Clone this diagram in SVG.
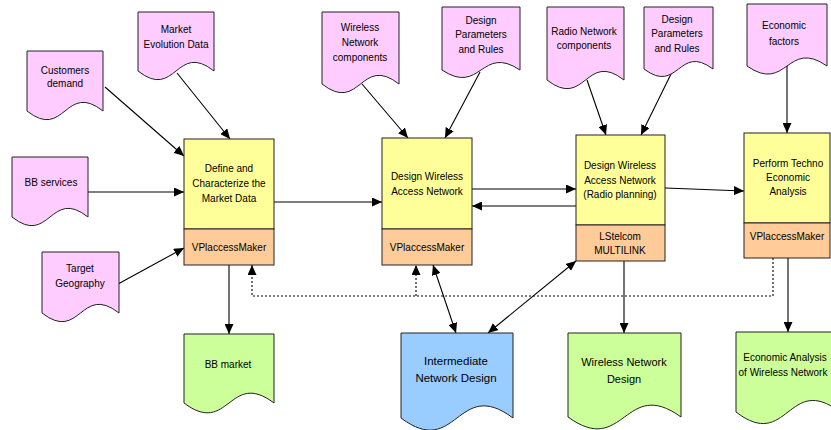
<svg xmlns="http://www.w3.org/2000/svg" width="831" height="430" viewBox="0 0 831 430">
<style>
text{font-family:"Liberation Sans",Arial,sans-serif;font-size:10px;fill:#000;text-anchor:middle}
.big{font-size:11.5px}
.mid{font-size:11px}
.doc{stroke:#222;stroke-width:1}
.in{fill:#ffccff}
.out{fill:#ccff99}
.blue{fill:#99ccff}
.proc{fill:#ffff99;stroke:#222;stroke-width:1}
.tool{fill:#ffcc99;stroke:#222;stroke-width:1}
.c{fill:none;stroke:#000;stroke-width:1.1}
.dot{fill:none;stroke:#000;stroke-width:1.1;stroke-dasharray:2 2}
</style>
<defs>
<marker id="ah" viewBox="0 0 10 9" refX="10" refY="4.5" markerWidth="10" markerHeight="9" markerUnits="userSpaceOnUse" orient="auto-start-reverse">
<path d="M0,0 L10,4.5 L0,9 Z" fill="#000"/>
</marker>
</defs>
<rect width="831" height="430" fill="#fff"/>

<g id="connectors">
<line class="c" x1="105" y1="87" x2="184" y2="156" marker-end="url(#ah)"/>
<line class="c" x1="177" y1="73" x2="230" y2="139" marker-end="url(#ah)"/>
<line class="c" x1="88" y1="192" x2="184" y2="192" marker-end="url(#ah)"/>
<line class="c" x1="118" y1="284" x2="184" y2="248" marker-end="url(#ah)"/>
<line class="c" x1="274" y1="202" x2="382" y2="202" marker-end="url(#ah)"/>
<line class="c" x1="362" y1="84" x2="408" y2="138" marker-end="url(#ah)"/>
<line class="c" x1="480" y1="72" x2="445" y2="138" marker-end="url(#ah)"/>
<line class="c" x1="472" y1="189" x2="576" y2="189" marker-end="url(#ah)"/>
<line class="c" x1="576" y1="206" x2="472" y2="206" marker-end="url(#ah)"/>
<line class="c" x1="587" y1="80" x2="606" y2="135" marker-end="url(#ah)"/>
<line class="c" x1="672" y1="72" x2="641" y2="135" marker-end="url(#ah)"/>
<line class="c" x1="665" y1="188" x2="744" y2="191" marker-end="url(#ah)"/>
<line class="c" x1="787" y1="66" x2="787" y2="133" marker-end="url(#ah)"/>
<line class="c" x1="229" y1="265" x2="229" y2="334" marker-end="url(#ah)"/>
<path class="dot" d="M773,258 V296 H252 V265" marker-end="url(#ah)"/>
<path class="dot" d="M416,296 V265" marker-end="url(#ah)"/>
<line class="c" x1="433" y1="265" x2="456" y2="333" marker-start="url(#ah)" marker-end="url(#ah)"/>
<line class="c" x1="576" y1="261" x2="488" y2="333" marker-start="url(#ah)" marker-end="url(#ah)"/>
<line class="c" x1="624" y1="261" x2="624" y2="333" marker-end="url(#ah)"/>
<line class="c" x1="788" y1="258" x2="788" y2="332" marker-end="url(#ah)"/>
</g>

<g id="customers-demand">
<path class="doc in" d="M27,51 H103 V111 C65,81 65,141 27,111 Z"/>
<text x="65" y="74">Customers</text>
<text x="65" y="87">demand</text>
</g>
<g id="market-evolution-data">
<path class="doc in" d="M138,12 H214 V71 C176,41 176,101 138,71 Z"/>
<text x="176" y="33">Market</text>
<text x="176" y="48">Evolution Data</text>
</g>
<g id="bb-services">
<path class="doc in" d="M12,157 H88 V217 C50,187 50,247 12,217 Z"/>
<text x="51" y="186">BB services</text>
</g>
<g id="target-geography">
<path class="doc in" d="M42,252 H119 V313 C80.5,283 80.5,343 42,313 Z"/>
<text x="80" y="272">Target</text>
<text x="80" y="287">Geography</text>
</g>
<g id="wireless-network-components">
<path class="doc in" d="M322,12 H399 V84 C360.5,54 360.5,114 322,84 Z"/>
<text x="360" y="31">Wireless</text>
<text x="360" y="46">Network</text>
<text x="360" y="61">components</text>
</g>
<g id="design-parameters-1">
<path class="doc in" d="M442,7 H520 V70 C481,44 481,96 442,70 Z"/>
<text x="481" y="24">Design</text>
<text x="481" y="38">Parameters</text>
<text x="481" y="53">and Rules</text>
</g>
<g id="radio-network-components">
<path class="doc in" d="M547,7 H624 V80 C585.5,50 585.5,110 547,80 Z"/>
<text x="584" y="35">Radio Network</text>
<text x="584" y="49">components</text>
</g>
<g id="design-parameters-2">
<path class="doc in" d="M644,7 H713 V69 C678.5,43 678.5,95 644,69 Z"/>
<text x="677" y="23">Design</text>
<text x="677" y="37">Parameters</text>
<text x="677" y="52">and Rules</text>
</g>
<g id="economic-factors">
<path class="doc in" d="M747,4 H827 V66 C787,38 787,94 747,66 Z"/>
<text x="784" y="29">Economic</text>
<text x="784" y="45">factors</text>
</g>

<g id="define-market-data">
<rect class="proc" x="184" y="139" width="90" height="90"/>
<rect class="tool" x="184" y="229" width="90" height="36"/>
<text x="229" y="172">Define and</text>
<text x="229" y="187">Characterize the</text>
<text x="229" y="202">Market Data</text>
<text x="229" y="251">VPlaccessMaker</text>
</g>
<g id="design-wireless-access">
<rect class="proc" x="382" y="138" width="90" height="91"/>
<rect class="tool" x="382" y="229" width="90" height="36"/>
<text x="427" y="180">Design Wireless</text>
<text x="427" y="195">Access Network</text>
<text x="427" y="251">VPlaccessMaker</text>
</g>
<g id="design-radio-planning">
<rect class="proc" x="576" y="135" width="89" height="90"/>
<rect class="tool" x="576" y="225" width="89" height="36"/>
<text x="620" y="169">Design Wireless</text>
<text x="620" y="184">Access Network</text>
<text x="620" y="198">(Radio planning)</text>
<text x="620" y="240">LStelcom</text>
<text x="620" y="254">MULTILINK</text>
</g>
<g id="techno-economic-analysis">
<rect class="proc" x="744" y="133" width="86" height="90"/>
<rect class="tool" x="744" y="223" width="86" height="35"/>
<text x="788" y="167">Perform Techno</text>
<text x="788" y="181">Economic</text>
<text x="788" y="195">Analysis</text>
<text x="787" y="240">VPlaccessMaker</text>
</g>

<g id="bb-market">
<path class="doc out" d="M184,334 H274 V403 C229,369 229,437 184,403 Z"/>
<text x="228" y="368">BB market</text>
</g>
<g id="intermediate-network-design">
<path class="doc blue" d="M401,333 H513 V418 C457,376 457,460 401,418 Z"/>
<text class="big" x="456" y="365">Intermediate</text>
<text class="big" x="456" y="382">Network Design</text>
</g>
<g id="wireless-network-design">
<path class="doc out" d="M568,333 H681 V417 C624.5,376 624.5,458 568,417 Z"/>
<text class="mid" x="624" y="366">Wireless Network</text>
<text class="mid" x="624" y="383">Design</text>
</g>
<g id="economic-analysis">
<path class="doc out" d="M736,332 H840 V412 C788,372 788,452 736,412 Z"/>
<text x="785" y="361">Economic Analysis</text>
<text x="783" y="376">of Wireless Network</text>
</g>
</svg>
